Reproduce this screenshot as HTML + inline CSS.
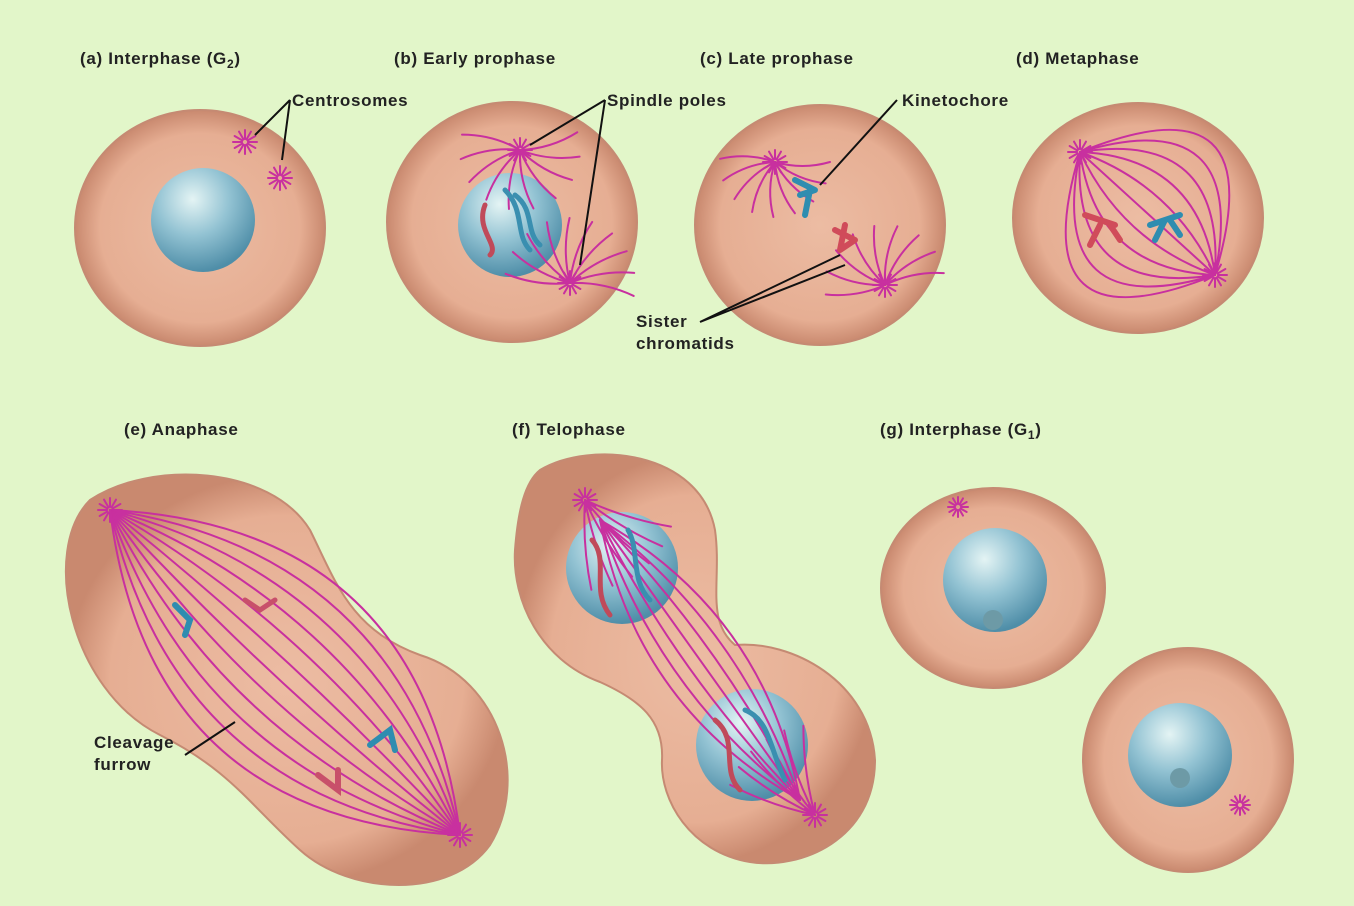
<!DOCTYPE html>
<html><head><meta charset="utf-8"><style>
html,body{margin:0;padding:0;background:#e2f6c9;}
svg{display:block}
text{font-family:"Liberation Sans",Arial,sans-serif;font-weight:bold;font-size:17px;letter-spacing:0.7px;fill:#222;}
</style></head><body>
<svg id="s" width="1354" height="906" viewBox="0 0 1354 906" xmlns="http://www.w3.org/2000/svg">
<defs>
<radialGradient id="cell" cx="50%" cy="50%" r="50%">
<stop offset="0" stop-color="#ecbca3"/><stop offset="0.8" stop-color="#e6ae93"/><stop offset="1" stop-color="#c9896f"/>
</radialGradient>
<radialGradient id="nuc" cx="40%" cy="30%" r="70%">
<stop offset="0" stop-color="#e4f4f4"/><stop offset="0.5" stop-color="#93c3d3"/><stop offset="1" stop-color="#4f8ea8"/>
</radialGradient>
</defs>
<rect width="1354" height="906" fill="#e2f6c9"/>
<g fill="url(#cell)" stroke="#c58a73" stroke-width="2">
<ellipse cx="200" cy="228" rx="125" ry="118"/>
<ellipse cx="512" cy="222" rx="125" ry="120"/>
<ellipse cx="820" cy="225" rx="125" ry="120"/>
<ellipse cx="1138" cy="218" rx="125" ry="115"/>
<path d="M90,500 C150,460 270,465 310,530 C335,580 350,630 420,655 C500,680 530,780 490,845 C450,900 350,895 300,850 C250,805 230,770 160,735 C70,690 40,550 90,500 Z"/>
<path d="M540,470 C590,440 700,450 715,530 C722,580 705,620 735,645 C790,640 870,680 875,760 C875,840 800,870 750,862 C690,852 660,800 662,760 C664,720 640,700 600,682 C540,660 512,600 515,550 C518,510 525,482 540,470 Z"/>
<ellipse cx="993" cy="588" rx="112" ry="100"/>
<ellipse cx="1188" cy="760" rx="105" ry="112"/>
</g>
<g fill="url(#nuc)">
<circle cx="203" cy="220" r="52"/>
<circle cx="510" cy="225" r="52"/>
<circle cx="622" cy="568" r="56"/>
<circle cx="752" cy="745" r="56"/>
<circle cx="995" cy="580" r="52"/>
<circle cx="1180" cy="755" r="52"/>
</g>
<circle cx="993" cy="620" r="10" fill="#6d9aa6"/>
<circle cx="1180" cy="778" r="10" fill="#6d9aa6"/>
<g id="fib" fill="none" stroke="#c8309f" stroke-width="2" stroke-linecap="round"></g>
<g fill="none" stroke-width="5" stroke-linecap="round">
<path d="M485,205 C475,230 500,245 490,255" stroke="#c04a5a"/>
<path d="M505,190 C525,210 515,235 530,250" stroke="#3a8fb0"/>
<path d="M515,195 C535,210 525,232 540,245" stroke="#3a8fb0"/>
<path d="M795,180 l20,10 M800,195 l15,-5 M810,190 l-5,25" stroke="#2e8db0" stroke-width="6"/>
<path d="M835,230 l20,10 M845,225 l-5,25 M840,250 l15,-10" stroke="#d04b5a" stroke-width="6"/>
<path d="M1085,215 l30,10 M1100,225 l-10,20 M1110,225 l10,15" stroke="#d04b5a" stroke-width="6"/>
<path d="M1150,225 l30,-10 M1165,220 l-10,20 M1170,220 l10,15" stroke="#2e8db0" stroke-width="6"/>
<path d="M175,605 l15,15 l-5,15" stroke="#2e8db0" stroke-width="6"/>
<path d="M245,600 l15,10 l15,-10" stroke="#c8506a" stroke-width="5"/>
<path d="M370,745 l20,-15 l5,20" stroke="#2e8db0" stroke-width="6"/>
<path d="M318,775 l20,15 l0,-20" stroke="#c8506a" stroke-width="6"/>
<path d="M592,540 C610,560 590,590 610,615" stroke="#c04a5a"/>
<path d="M628,530 C640,550 630,580 650,600" stroke="#3a8fb0"/>
<path d="M715,720 C740,740 720,770 740,790" stroke="#c04a5a"/>
<path d="M745,710 C770,720 770,750 785,780" stroke="#3a8fb0"/>
</g>
<g stroke="#111" stroke-width="2" fill="none">
<path d="M290,100 L255,135 M290,100 L282,160"/>
<path d="M605,100 L530,145 M605,100 L580,265"/>
<path d="M897,100 L820,185"/>
<path d="M700,322 L840,255 M700,322 L845,265"/>
<path d="M185,755 L235,722"/>
</g>
<text x="80" y="64">(a)  Interphase (G<tspan font-size="12" dy="4">2</tspan><tspan dy="-4">)</tspan></text>
<text x="394" y="64">(b)  Early prophase</text>
<text x="700" y="64">(c)  Late prophase</text>
<text x="1016" y="64">(d)  Metaphase</text>
<text x="292" y="106">Centrosomes</text>
<text x="607" y="106">Spindle poles</text>
<text x="902" y="106">Kinetochore</text>
<text x="636" y="327">Sister</text>
<text x="636" y="349">chromatids</text>
<text x="124" y="435">(e)  Anaphase</text>
<text x="512" y="435">(f)  Telophase</text>
<text x="880" y="435">(g)  Interphase (G<tspan font-size="12" dy="4">1</tspan><tspan dy="-4">)</tspan></text>
<text x="94" y="748">Cleavage</text>
<text x="94" y="770">furrow</text>
</svg>
<script>
var g=document.getElementById('fib');
function P(d){var p=document.createElementNS('http://www.w3.org/2000/svg','path');p.setAttribute('d',d);g.appendChild(p);}
function star(x,y,r){for(var i=0;i<12;i++){var a=i*Math.PI/6;P('M'+(x+Math.cos(a)*3)+','+(y+Math.sin(a)*3)+' L'+(x+Math.cos(a)*r)+','+(y+Math.sin(a)*r));}}
function fan(x,y,a0,a1,n,len,bend){for(var i=0;i<n;i++){var a=a0+(a1-a0)*i/(n-1);var ex=x+Math.cos(a)*len,ey=y+Math.sin(a)*len;var mx=(x+ex)/2+Math.cos(a+1.57)*bend,my=(y+ey)/2+Math.sin(a+1.57)*bend;P('M'+x+','+y+' Q'+mx+','+my+' '+ex+','+ey);}}
function spindle(x1,y1,x2,y2,n,w){for(var i=0;i<n;i++){var t=(i/(n-1)-0.5)*2;var dx=x2-x1,dy=y2-y1,L=Math.hypot(dx,dy);var nx=-dy/L,ny=dx/L;var mx=(x1+x2)/2+nx*t*w,my=(y1+y2)/2+ny*t*w;P('M'+x1+','+y1+' Q'+mx+','+my+' '+x2+','+y2);}}
star(245,142,12);star(280,178,12);
star(520,150,12);fan(520,150,-0.3,3.4,10,60,8);
star(570,283,12);fan(570,283,-3.0,0.2,10,65,-8);
star(775,162,12);fan(775,162,0,3.2,9,55,8);
star(885,285,12);fan(885,285,-3.3,-0.2,9,60,-8);
star(1080,152,12);star(1215,275,12);spindle(1080,152,1215,275,11,190);
star(110,510,12);star(460,835,12);spindle(110,510,460,835,12,200);
star(585,500,12);star(815,815,12);fan(585,500,0.3,1.5,6,90,6);fan(815,815,-2.8,-1.7,6,90,-6);spindle(600,520,800,800,7,80);
star(958,507,10);star(1240,805,10);
</script>
</body></html>
